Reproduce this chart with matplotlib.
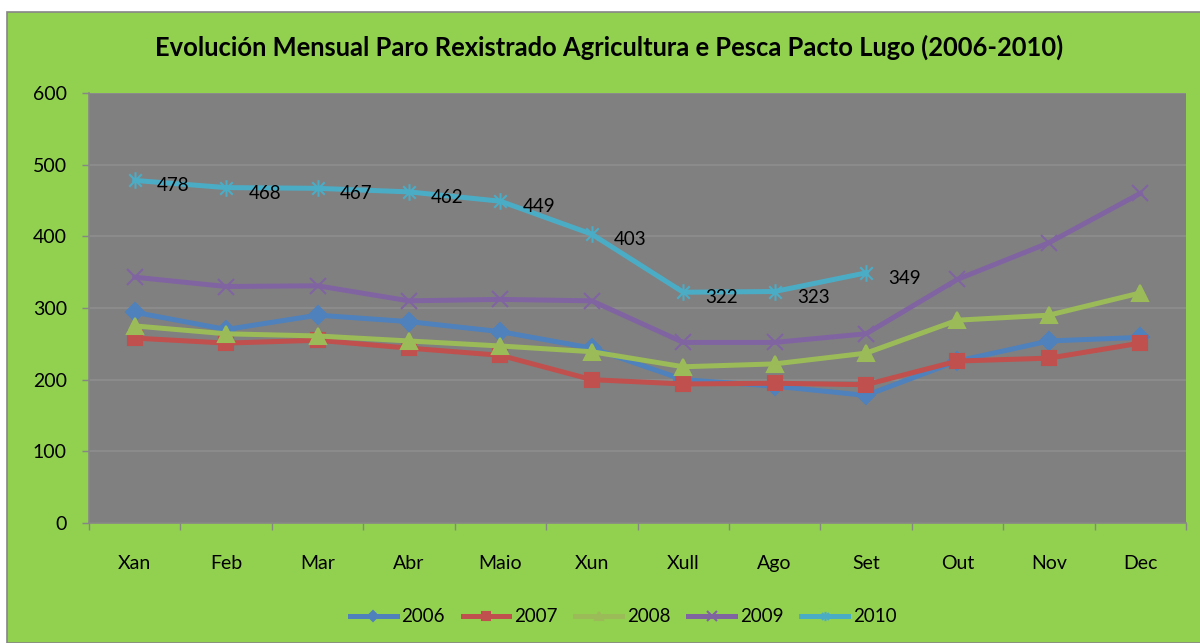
import matplotlib
matplotlib.use("Agg")
import matplotlib.pyplot as plt
from matplotlib.patches import Rectangle
from matplotlib.path import Path
from matplotlib.ticker import FixedLocator, NullFormatter

plt.rcParams['font.family'] = ['Lato', 'DejaVu Sans']

months = ["Xan", "Feb", "Mar", "Abr", "Maio", "Xun", "Xull", "Ago", "Set", "Out", "Nov", "Dec"]
s2006 = [294, 270, 290, 281, 267, 244, 200, 191, 178, 226, 254, 259]
s2007 = [258, 251, 255, 244, 234, 200, 194, 195, 193, 226, 230, 251]
s2008 = [275, 264, 261, 254, 247, 239, 218, 222, 237, 283, 290, 321]
s2009 = [343, 330, 331, 310, 312, 310, 252, 252, 264, 340, 391, 460]
s2010 = [478, 468, 467, 462, 449, 403, 322, 323, 349]
years = ["2006", "2007", "2008", "2009", "2010"]
yticks = [0, 100, 200, 300, 400, 500, 600]
title = "Evolución Mensual Paro Rexistrado Agricultura e Pesca Pacto Lugo (2006-2010)"

colors = ["#4F81BD", "#C0504D", "#9BBB59", "#8064A2", "#4BACC6"]

star = Path([(0, -1), (0, 1), (-0.75, -0.75), (0.75, 0.75), (-0.75, 0.75), (0.75, -0.75)],
            [Path.MOVETO, Path.LINETO, Path.MOVETO, Path.LINETO, Path.MOVETO, Path.LINETO])
markers = ["D", "s", "^", "x", star]
msizes = [9, 10, 11, 12, 12]

W, H = 1200, 643
fig = plt.figure(figsize=(W / 100, H / 100), dpi=100, facecolor="white")
bg = Rectangle((7 / W, 0), 1 - 7 / W + 0.01, 1 - 12 / H, transform=fig.transFigure,
               facecolor="#92D050", edgecolor="#868686", linewidth=1.2, zorder=-10)
fig.patches.append(bg)

ax = fig.add_axes([89 / W, 1 - 523 / H, (1186 - 89) / W, (523 - 93) / H])
ax.set_zorder(1)
ax.set_facecolor("#808080")

series = [s2006, s2007, s2008, s2009, s2010]
for i, (ys, lab) in enumerate(zip(series, years)):
    x = list(range(len(ys)))
    ax.plot(x, ys, color=colors[i], lw=3.6, marker=markers[i], ms=msizes[i],
            markeredgecolor=colors[i], markerfacecolor=colors[i],
            markeredgewidth=1.5, label=lab, zorder=3 + i, solid_joinstyle="round")

for i, v in enumerate(s2010):
    ax.annotate(str(v), (i, v), xytext=(16, -4), textcoords="offset points",
                ha="left", va="center", fontsize=13.5, color="black", zorder=10)

ax.set_xlim(-0.5, len(months) - 0.5)
ax.set_ylim(0, 600)
ax.set_yticks(yticks)
ax.yaxis.grid(True, color="#8E8E8E", lw=1.2)
ax.set_axisbelow(True)
ax.set_xticks(range(len(months)))
ax.set_xticklabels(months)
ax.xaxis.set_minor_locator(FixedLocator([k - 0.5 for k in range(len(months) + 1)]))
ax.xaxis.set_minor_formatter(NullFormatter())
ax.tick_params(axis="x", which="major", length=0, pad=23, labelsize=14)
ax.tick_params(axis="x", which="minor", length=5, width=1, color="#868686")
ax.tick_params(axis="y", length=5, width=1, color="#868686", labelsize=14, pad=11)
for s in ["top", "right"]:
    ax.spines[s].set_visible(False)
for s in ["left", "bottom"]:
    ax.spines[s].set_color("#868686")
    ax.spines[s].set_linewidth(1.2)

fig.text(609 / W, 1 - 47 / H, title, ha="center", va="center", fontsize=18.4, fontweight="bold")

handles, labels = ax.get_legend_handles_labels()
leg = fig.legend(handles, labels, loc="center", bbox_to_anchor=(623 / W, 1 - 617 / H), ncol=5,
                 frameon=False, fontsize=13.5, handlelength=2.5, handletextpad=0.25,
                 columnspacing=0.95, markerscale=0.55)

fig.savefig("out.png", dpi=100, facecolor="white")
